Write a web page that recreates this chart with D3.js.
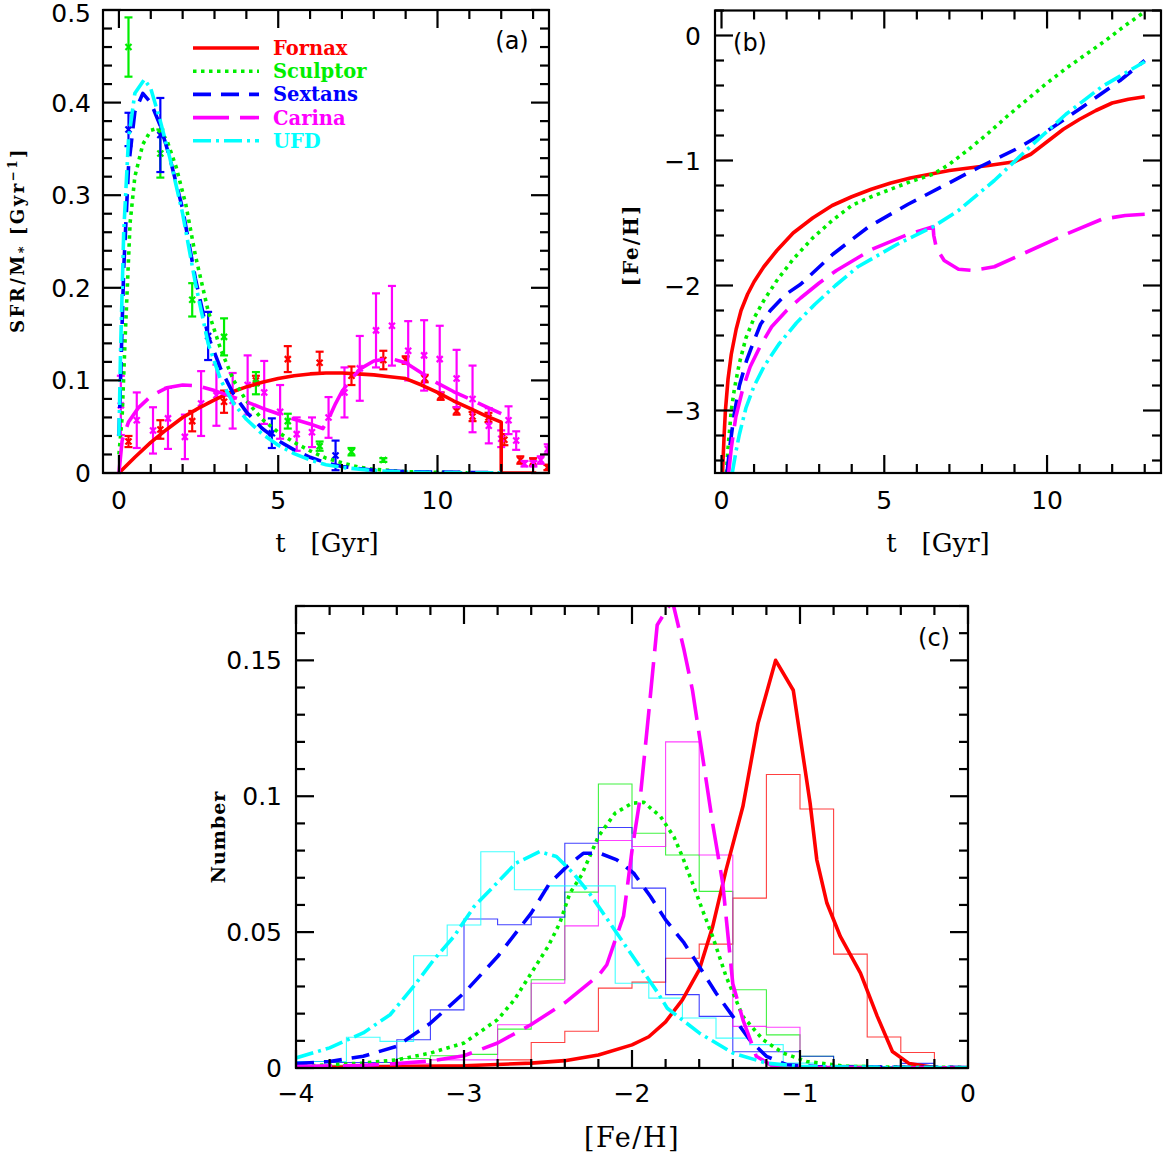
<!DOCTYPE html>
<html>
<head>
<meta charset="utf-8">
<script src="https://cdn.jsdelivr.net/npm/d3@7"></script>
<style>
  body { margin: 0; background: #fff; }
</style>
</head>
<body>
<div id="figure"></div>
<script>
// ---------- panel (a): star formation rate vs time ----------
const fornaxSfrT = [0, 0.5, 1, 1.5, 2, 2.5, 3, 3.5, 4, 4.5, 5, 5.5, 6, 6.5, 7, 7.5, 8, 8.5, 9, 9.5, 10, 10.5, 11, 11.5, 12, 12, 13.1];
const fornaxSfr = [0, 0.017, 0.033, 0.047, 0.06, 0.07, 0.079, 0.087, 0.093, 0.098, 0.102, 0.105, 0.107, 0.108, 0.108, 0.107, 0.106, 0.104, 0.102, 0.095, 0.087, 0.078, 0.07, 0.062, 0.055, 0, 0];
const sculptorSfrT = [0, 0.1, 0.2, 0.35, 0.5, 0.75, 1.0, 1.2, 1.5, 1.8, 2.1, 2.4, 2.8, 3.2, 3.6, 4.0, 4.5, 5.0, 5.5, 6.0, 6.5, 7.0, 7.5, 8, 9, 10, 11, 12];
const sculptorSfr = [0.02, 0.06, 0.15, 0.27, 0.32, 0.355, 0.37, 0.372, 0.36, 0.33, 0.29, 0.235, 0.175, 0.133, 0.1, 0.078, 0.058, 0.044, 0.033, 0.024, 0.016, 0.011, 0.0065, 0.004, 0.0015, 0.0007, 0.0003, 0.0002];
const sextansSfrT = [0, 0.05, 0.15, 0.3, 0.5, 0.75, 1.0, 1.3, 1.6, 2.0, 2.4, 2.8, 3.2, 3.6, 4.0, 4.5, 5.0, 5.5, 6.0, 6.5, 7.0, 8.0, 9.0, 10, 11, 12];
const sextansSfr = [0.04, 0.1, 0.22, 0.33, 0.39, 0.41, 0.4, 0.375, 0.34, 0.285, 0.21, 0.148, 0.112, 0.085, 0.066, 0.048, 0.035, 0.025, 0.017, 0.011, 0.007, 0.003, 0.0015, 0.001, 0.0005, 0.0003];
const carinaSfrT = [0, 0.1, 0.3, 0.6, 1.0, 1.5, 2.0, 2.5, 3.0, 3.5, 4.0, 4.5, 5.0, 5.5, 6.0, 6.4, 6.6, 6.8, 7.0, 7.3, 7.6, 8.0, 8.5, 9.0, 9.5, 10, 10.5, 11, 11.5, 12];
const carinaSfr = [0, 0.035, 0.055, 0.07, 0.083, 0.092, 0.095, 0.094, 0.089, 0.083, 0.077, 0.07, 0.064, 0.058, 0.053, 0.048, 0.06, 0.075, 0.088, 0.102, 0.113, 0.121, 0.124, 0.119, 0.108, 0.097, 0.088, 0.08, 0.072, 0.064];
const ufdSfrT = [0, 0.05, 0.15, 0.3, 0.5, 0.8, 1.0, 1.3, 1.6, 2.0, 2.4, 2.8, 3.2, 3.6, 4.0, 4.5, 5.0, 5.5, 6.0, 6.5, 7.0, 8, 9, 10, 11, 12];
const ufdSfr = [0.04, 0.13, 0.26, 0.36, 0.41, 0.425, 0.415, 0.38, 0.34, 0.28, 0.205, 0.14, 0.1, 0.075, 0.058, 0.042, 0.03, 0.021, 0.014, 0.009, 0.006, 0.0025, 0.001, 0.0005, 0.0003, 0.0002];

// observed SFHs with error bars
const fornaxObsT = [0.3, 1.3, 2.3, 3.3, 4.3, 5.3, 6.3, 7.3, 8.3, 9.0, 9.6, 10.1, 10.6, 11.1, 11.6, 12.1, 12.6, 13.0, 13.45];
const fornaxObs = [0.034, 0.047, 0.056, 0.077, 0.1, 0.123, 0.119, 0.105, 0.122, 0.122, 0.102, 0.083, 0.067, 0.061, 0.06, 0.036, 0.014, 0.012, 0.006];
const fornaxErr = [0.006, 0.01, 0.011, 0.012, 0.005, 0.014, 0.012, 0.01, 0.01, 0.004, 0.004, 0.004, 0.004, 0.005, 0.005, 0.006, 0.004, 0.004, 0.003];
const sculptorObsT = [0.3, 1.3, 2.3, 3.3, 4.3, 5.3, 6.3, 7.3, 8.3];
const sculptorObs = [0.46, 0.345, 0.187, 0.147, 0.097, 0.056, 0.029, 0.023, 0.014];
const sculptorErr = [0.032, 0.026, 0.018, 0.02, 0.012, 0.008, 0.005, 0.004, 0.002];
const sextansObsT = [0.3, 1.3, 2.8, 4.8, 6.8];
const sextansObs = [0.371, 0.365, 0.148, 0.043, 0.019];
const sextansErr = [0.018, 0.04, 0.026, 0.016, 0.016];
const carinaObsT = [0.06, 0.56, 1.07, 1.54, 2.07, 2.58, 3.06, 3.57, 4.04, 4.56, 5.06, 5.58, 6.06, 6.58, 7.08, 7.56, 8.07, 8.57, 9.08, 9.58, 10.07, 10.6, 11.1, 11.61, 12.0, 12.23, 12.47, 12.73, 13.01, 13.24, 13.46];
const carinaObs = [0.073, 0.057, 0.046, 0.059, 0.039, 0.075, 0.084, 0.078, 0.095, 0.087, 0.066, 0.042, 0.044, 0.06, 0.087, 0.113, 0.154, 0.159, 0.132, 0.127, 0.123, 0.102, 0.08, 0.051, 0.037, 0.057, 0.035, 0.01, 0.01, 0.014, 0.026];
const carinaErr = [0.032, 0.03, 0.025, 0.033, 0.024, 0.035, 0.033, 0.03, 0.032, 0.034, 0.029, 0.018, 0.016, 0.022, 0.027, 0.035, 0.04, 0.043, 0.032, 0.038, 0.036, 0.031, 0.036, 0.019, 0.009, 0.015, 0.01, 0.003, 0.003, 0.004, 0.005];

// ---------- panel (b): [Fe/H] vs time ----------
const fornaxFehT = [0.03, 0.08, 0.12, 0.2, 0.3, 0.45, 0.6, 0.8, 1.0, 1.3, 1.7, 2.2, 2.8, 3.4, 4, 4.6, 5.2, 5.8, 6.4, 7, 7.6, 8.2, 9.0, 9.5, 10, 10.5, 11, 11.5, 12, 12.5, 13];
const fornaxFeh = [-3.5, -3.2, -3.0, -2.75, -2.55, -2.35, -2.2, -2.07, -1.97, -1.85, -1.72, -1.58, -1.46, -1.36, -1.29, -1.23, -1.18, -1.14, -1.11, -1.08, -1.06, -1.04, -1.01, -0.95, -0.85, -0.75, -0.67, -0.6, -0.54, -0.51, -0.49];
const sculptorFehT = [0.15, 0.2, 0.3, 0.4, 0.55, 0.75, 1.0, 1.3, 1.7, 2.2, 2.8, 3.4, 4, 4.6, 5.2, 5.8, 6.5, 7, 7.6, 8.2, 8.8, 9.4, 10, 10.6, 11.2, 11.8, 12.4, 13];
const sculptorFeh = [-3.5, -3.3, -3.0, -2.82, -2.62, -2.42, -2.26, -2.12, -1.96, -1.79, -1.62, -1.48, -1.36, -1.29, -1.23, -1.17, -1.11, -1.03, -0.91, -0.78, -0.64, -0.51, -0.38, -0.26, -0.15, -0.04, 0.08, 0.19];
const sextansFehT = [0.17, 0.25, 0.39, 0.55, 0.77, 1.0, 1.2, 1.5, 1.98, 2.43, 3.42, 4.52, 5.73, 6.84, 7.94, 9.04, 10.03, 11.1, 12.24, 13];
const sextansFeh = [-3.5, -3.3, -3.03, -2.8, -2.6, -2.44, -2.31, -2.2, -2.07, -1.99, -1.75, -1.53, -1.35, -1.2, -1.05, -0.91, -0.76, -0.57, -0.36, -0.2];
const carinaFehT = [0.22, 0.3, 0.44, 0.65, 0.88, 1.2, 1.54, 2.0, 2.43, 3.0, 3.53, 4.63, 5.73, 6.5, 6.52, 6.6, 6.84, 7.28, 7.72, 8.38, 9.48, 10.58, 11.68, 12.4, 13];
const carinaFeh = [-3.5, -3.3, -3.05, -2.83, -2.65, -2.48, -2.33, -2.2, -2.1, -1.98, -1.88, -1.71, -1.59, -1.53, -1.6, -1.7, -1.8, -1.87, -1.88, -1.85, -1.72, -1.59, -1.47, -1.44, -1.43];
const ufdFehT = [0.33, 0.45, 0.55, 0.75, 0.99, 1.3, 1.76, 2.3, 2.87, 3.5, 4.19, 5.4, 6.5, 7.28, 8.38, 9.48, 10.58, 11.68, 13];
const ufdFeh = [-3.5, -3.32, -3.19, -2.98, -2.81, -2.65, -2.47, -2.3, -2.15, -2.0, -1.85, -1.67, -1.53, -1.4, -1.16, -0.89, -0.63, -0.41, -0.21];

// ---------- panel (c): metallicity distributions ----------
const fornaxMdfX = [-4, -3.5, -3.0, -2.6, -2.4, -2.2, -2.0, -1.9, -1.8, -1.7, -1.6, -1.52, -1.44, -1.34, -1.25, -1.145, -1.04, -0.94, -0.9, -0.84, -0.76, -0.64, -0.54, -0.45, -0.35, -0.2, 0];
const fornaxMdf = [0.0002, 0.0004, 0.0008, 0.0018, 0.0027, 0.0048, 0.0085, 0.0115, 0.017, 0.0251, 0.0361, 0.052, 0.0729, 0.0962, 0.1268, 0.15, 0.139, 0.0975, 0.0766, 0.0607, 0.0484, 0.0349, 0.019, 0.0061, 0.0016, 0.0002, 0];
const sculptorMdfX = [-4, -3.6, -3.4, -3.2, -3.0, -2.8, -2.7, -2.6, -2.5, -2.43, -2.37, -2.3, -2.2, -2.1, -2.0, -1.93, -1.83, -1.75, -1.7, -1.64, -1.58, -1.52, -1.44, -1.34, -1.22, -1.1, -0.96, -0.72, -0.4, 0];
const sculptorMdf = [0.0006, 0.0018, 0.003, 0.0055, 0.0092, 0.0178, 0.0251, 0.0349, 0.0447, 0.0533, 0.0643, 0.071, 0.0852, 0.0938, 0.0974, 0.0978, 0.0925, 0.085, 0.0778, 0.068, 0.058, 0.0484, 0.0337, 0.019, 0.0104, 0.0055, 0.0024, 0.0006, 0.0003, 0.0002];
const sextansMdfX = [-4, -3.8, -3.6, -3.4, -3.2, -3.0, -2.8, -2.6, -2.49, -2.39, -2.29, -2.19, -2.09, -1.99, -1.89, -1.8, -1.69, -1.6, -1.5, -1.4, -1.3, -1.2, -1.08, -0.9, -0.5, 0];
const sextansMdf = [0.0016, 0.0024, 0.0043, 0.008, 0.0165, 0.0276, 0.041, 0.057, 0.068, 0.074, 0.079, 0.079, 0.0766, 0.0717, 0.0631, 0.0545, 0.046, 0.0374, 0.0276, 0.019, 0.0104, 0.0043, 0.0012, 0.0005, 0.0003, 0.0002];
const carinaMdfX = [-4, -3.6, -3.4, -3.2, -3.0, -2.8, -2.6, -2.4, -2.2, -2.15, -2.1, -2.05, -2.0, -1.95, -1.9, -1.85, -1.8, -1.76, -1.69, -1.64, -1.58, -1.52, -1.46, -1.4, -1.34, -1.26, -1.16, -1.0, -0.5, 0];
const carinaMdf = [0.0005, 0.001, 0.0016, 0.0026, 0.0045, 0.0092, 0.016, 0.024, 0.034, 0.038, 0.047, 0.056, 0.08, 0.1, 0.131, 0.163, 0.168, 0.172, 0.1538, 0.139, 0.1146, 0.09, 0.068, 0.031, 0.0178, 0.0043, 0.0006, 0.0002, 0.0001, 0];
const ufdMdfX = [-4, -3.8, -3.6, -3.44, -3.3, -3.18, -3.06, -2.94, -2.79, -2.69, -2.55, -2.45, -2.35, -2.25, -2.15, -2.05, -1.95, -1.85, -1.79, -1.6, -1.4, -1.2, -1.0, -0.5, 0];
const ufdMdf = [0.0037, 0.0074, 0.0129, 0.0196, 0.03, 0.0398, 0.0484, 0.0594, 0.069, 0.0754, 0.0796, 0.0778, 0.0717, 0.064, 0.055, 0.046, 0.037, 0.028, 0.022, 0.0129, 0.0055, 0.0018, 0.0006, 0.0002, 0.0001];

// observed histograms, 0.2 dex bins, given as first left edge + heights
const fornaxHistStart = -4.0;
const fornaxHist = [0.0005, 0.0005, 0.0005, 0.0005, 0.001, 0.001, 0.003, 0.0094, 0.0135, 0.0294, 0.0316, 0.0404, 0.0456, 0.0625, 0.108, 0.0953, 0.0419, 0.0114, 0.0057, 0.0005];
const sculptorHistStart = -4.0;
const sculptorHist = [0.001, 0.001, 0.001, 0.0035, 0.0045, 0.005, 0.0143, 0.0325, 0.0647, 0.1045, 0.0864, 0.0784, 0.065, 0.0288, 0.0122, 0.0043, 0.001, 0.0005, 0.0005, 0.0002];
const sextansHistStart = -4.0;
const sextansHist = [0.0024, 0.002, 0.002, 0.0104, 0.0214, 0.0548, 0.0527, 0.0555, 0.0827, 0.0885, 0.0662, 0.027, 0.019, 0.006, 0.006, 0.0043, 0.0005, 0.0005, 0.0017, 0.0002];
const carinaHistStart = -4.0;
const carinaHist = [0.0005, 0.0005, 0.001, 0.0015, 0.003, 0.003, 0.0159, 0.0312, 0.0523, 0.0837, 0.0815, 0.12, 0.0784, 0.0153, 0.015, 0.0005, 0.0005, 0.0003, 0.0003, 0.0002];
const ufdHistStart = -4.1;
const ufdHist = [0.0024, 0.0024, 0.0113, 0.0098, 0.0413, 0.0526, 0.0796, 0.0656, 0.067, 0.067, 0.0312, 0.0257, 0.0184, 0.011, 0.0086, 0.0018, 0.0005, 0.0005, 0.0005, 0.0005, 0.0005];

const names = ["Fornax", "Sculptor", "Sextans", "Carina", "UFD"];

// ticks and labels
const aXLabels = [0, 5, 10];
const aYLabels = [0, 0.1, 0.2, 0.3, 0.4, 0.5];
const bXLabels = [0, 5, 10];
const bYLabels = [0, -1, -2, -3];
const cXLabels = [-4, -3, -2, -1, 0];
const cYLabels = [0, 0.05, 0.1, 0.15];

// ---------- styling ----------
const colors = ["#ff0000", "#00ee00", "#0000ff", "#ff00ff", "#00ffff"];
const dashes = ["none", "3.5,4.5", "18,10", "36,11", "18,5,3,5"];
const lineWidth = 3.6;
const serif = "DejaVu Serif";

const zip = (a, b) => a.map((v, i) => [v, b[i]]);
const fmt = (v) => (v < 0 ? "\u2212" + Math.abs(v) : String(v));

const svg = d3
  .select("#figure")
  .append("svg")
  .attr("width", 1163)
  .attr("height", 1154)
  .attr("font-family", "DejaVu Sans");

let clipCount = 0;

function makePanel(box, xDomain, yDomain) {
  const x = d3.scaleLinear().domain(xDomain).range([box.left, box.right]);
  const y = d3.scaleLinear().domain(yDomain).range([box.bottom, box.top]);
  const id = "clip" + clipCount++;
  svg
    .append("clipPath")
    .attr("id", id)
    .append("rect")
    .attr("x", box.left)
    .attr("y", box.top)
    .attr("width", box.right - box.left)
    .attr("height", box.bottom - box.top);
  const plot = svg.append("g").attr("clip-path", `url(#${id})`);
  return { x, y, box, plot };
}

function drawFrame(p, xTicks, yTicks, xLabels, yLabels, xLabelDy, yLabelDx) {
  const { x, y, box } = p;
  const g = svg.append("g").attr("stroke", "#000").attr("stroke-width", 2.2);
  g.append("rect")
    .attr("x", box.left)
    .attr("y", box.top)
    .attr("width", box.right - box.left)
    .attr("height", box.bottom - box.top)
    .attr("fill", "none");

  const len = (d) => (d.major ? 18 : 9);
  g.selectAll(".xb").data(xTicks).join("line")
    .attr("x1", (d) => x(d.v)).attr("x2", (d) => x(d.v))
    .attr("y1", box.bottom).attr("y2", (d) => box.bottom - len(d));
  g.selectAll(".xt").data(xTicks).join("line")
    .attr("x1", (d) => x(d.v)).attr("x2", (d) => x(d.v))
    .attr("y1", box.top).attr("y2", (d) => box.top + len(d));
  g.selectAll(".yl").data(yTicks).join("line")
    .attr("y1", (d) => y(d.v)).attr("y2", (d) => y(d.v))
    .attr("x1", box.left).attr("x2", (d) => box.left + len(d));
  g.selectAll(".yr").data(yTicks).join("line")
    .attr("y1", (d) => y(d.v)).attr("y2", (d) => y(d.v))
    .attr("x1", box.right).attr("x2", (d) => box.right - len(d));

  svg.append("g").selectAll("text").data(xLabels).join("text")
    .attr("x", (d) => x(d))
    .attr("y", box.bottom + xLabelDy)
    .attr("text-anchor", "middle")
    .attr("font-size", 25)
    .text(fmt);
  svg.append("g").selectAll("text").data(yLabels).join("text")
    .attr("x", box.left - yLabelDx)
    .attr("y", (d) => Math.max(y(d), 13))
    .attr("dy", "0.36em")
    .attr("text-anchor", "end")
    .attr("font-size", 25)
    .text(fmt);
}

function drawCurve(p, pts, i) {
  const line = d3.line().x((d) => p.x(d[0])).y((d) => p.y(d[1]));
  p.plot.append("path")
    .attr("d", line(pts))
    .attr("fill", "none")
    .attr("stroke", colors[i])
    .attr("stroke-width", lineWidth)
    .attr("stroke-dasharray", dashes[i])
    .attr("stroke-linejoin", "round");
}

function drawHist(p, start, vals, i) {
  const pts = vals.map((v, k) => [start + 0.2 * k, v]);
  pts.push([start + 0.2 * vals.length, vals[vals.length - 1]]);
  const line = d3.line().curve(d3.curveStepAfter)
    .x((d) => p.x(d[0])).y((d) => p.y(d[1]));
  p.plot.append("path")
    .attr("d", line(pts))
    .attr("fill", "none")
    .attr("stroke", colors[i])
    .attr("stroke-opacity", 0.75)
    .attr("stroke-width", 1.1);
}

function drawErrors(p, ts, vs, es, i) {
  const g = p.plot.append("g").attr("stroke", colors[i]).attr("stroke-width", 2.2);
  const data = ts.map((t, k) => ({ t, v: vs[k], e: es[k] }));
  const cap = 4, m = 3;
  g.selectAll(".bar").data(data).join("line")
    .attr("x1", (d) => p.x(d.t)).attr("x2", (d) => p.x(d.t))
    .attr("y1", (d) => p.y(d.v - d.e)).attr("y2", (d) => p.y(d.v + d.e));
  g.selectAll(".lo").data(data).join("line")
    .attr("x1", (d) => p.x(d.t) - cap).attr("x2", (d) => p.x(d.t) + cap)
    .attr("y1", (d) => p.y(d.v - d.e)).attr("y2", (d) => p.y(d.v - d.e));
  g.selectAll(".hi").data(data).join("line")
    .attr("x1", (d) => p.x(d.t) - cap).attr("x2", (d) => p.x(d.t) + cap)
    .attr("y1", (d) => p.y(d.v + d.e)).attr("y2", (d) => p.y(d.v + d.e));
  g.selectAll(".m1").data(data).join("line")
    .attr("x1", (d) => p.x(d.t) - m).attr("x2", (d) => p.x(d.t) + m)
    .attr("y1", (d) => p.y(d.v) - m).attr("y2", (d) => p.y(d.v) + m);
  g.selectAll(".m2").data(data).join("line")
    .attr("x1", (d) => p.x(d.t) - m).attr("x2", (d) => p.x(d.t) + m)
    .attr("y1", (d) => p.y(d.v) + m).attr("y2", (d) => p.y(d.v) - m);
}

// ---------- panel (a) ----------
const pa = makePanel({ left: 103, right: 549, top: 10, bottom: 473 }, [-0.5, 13.5], [0, 0.5]);
drawErrors(pa, fornaxObsT, fornaxObs, fornaxErr, 0);
drawErrors(pa, sculptorObsT, sculptorObs, sculptorErr, 1);
drawErrors(pa, sextansObsT, sextansObs, sextansErr, 2);
drawErrors(pa, carinaObsT, carinaObs, carinaErr, 3);
drawCurve(pa, zip(fornaxSfrT, fornaxSfr), 0);
drawCurve(pa, zip(sculptorSfrT, sculptorSfr), 1);
drawCurve(pa, zip(sextansSfrT, sextansSfr), 2);
drawCurve(pa, zip(carinaSfrT, carinaSfr), 3);
drawCurve(pa, zip(ufdSfrT, ufdSfr), 4);
drawFrame(
  pa,
  d3.range(0, 14).map((v) => ({ v, major: v % 5 === 0 })),
  d3.range(0, 26).map((i) => ({ v: i * 0.02, major: i % 5 === 0 })),
  aXLabels, aYLabels, 36, 12
);

// legend
const legend = svg.append("g");
names.forEach((n, i) => {
  const yy = 48 + i * 23.2;
  legend.append("line")
    .attr("x1", 193).attr("x2", 259).attr("y1", yy).attr("y2", yy)
    .attr("stroke", colors[i]).attr("stroke-width", lineWidth)
    .attr("stroke-dasharray", dashes[i]);
  legend.append("text")
    .attr("x", 273).attr("y", yy).attr("dy", "0.36em")
    .attr("font-family", serif).attr("font-weight", "bold")
    .attr("font-size", 19.5).attr("fill", colors[i])
    .text(n);
});

// ---------- panel (b) ----------
const pb = makePanel({ left: 715, right: 1161, top: 10.5, bottom: 473 }, [-0.2, 13.5], [-3.5, 0.2]);
drawCurve(pb, zip(fornaxFehT, fornaxFeh), 0);
drawCurve(pb, zip(sculptorFehT, sculptorFeh), 1);
drawCurve(pb, zip(sextansFehT, sextansFeh), 2);
drawCurve(pb, zip(carinaFehT, carinaFeh), 3);
drawCurve(pb, zip(ufdFehT, ufdFeh), 4);
drawFrame(
  pb,
  d3.range(0, 14).map((v) => ({ v, major: v % 5 === 0 })),
  d3.range(-17, 2).map((i) => ({ v: i / 5, major: i % 5 === 0 })),
  bXLabels, bYLabels, 36, 14
);

// ---------- panel (c) ----------
const pc = makePanel({ left: 296, right: 968, top: 606, bottom: 1068 }, [-4, 0], [0, 0.17]);
drawHist(pc, fornaxHistStart, fornaxHist, 0);
drawHist(pc, sculptorHistStart, sculptorHist, 1);
drawHist(pc, sextansHistStart, sextansHist, 2);
drawHist(pc, carinaHistStart, carinaHist, 3);
drawHist(pc, ufdHistStart, ufdHist, 4);
drawCurve(pc, zip(fornaxMdfX, fornaxMdf), 0);
drawCurve(pc, zip(sculptorMdfX, sculptorMdf), 1);
drawCurve(pc, zip(sextansMdfX, sextansMdf), 2);
drawCurve(pc, zip(carinaMdfX, carinaMdf), 3);
drawCurve(pc, zip(ufdMdfX, ufdMdf), 4);
drawFrame(
  pc,
  d3.range(-20, 1).map((i) => ({ v: i / 5, major: i % 5 === 0 })),
  d3.range(0, 18).map((i) => ({ v: i / 100, major: i % 5 === 0 })),
  cXLabels, cYLabels, 34, 14
);

// ---------- titles ----------
const titles = svg.append("g");
titles.append("text").attr("x", 512).attr("y", 40).attr("dy", "0.36em")
  .attr("text-anchor", "middle").attr("font-size", 24).text("(a)");
titles.append("text").attr("x", 750).attr("y", 42).attr("dy", "0.36em")
  .attr("text-anchor", "middle").attr("font-size", 24).text("(b)");
titles.append("text").attr("x", 934).attr("y", 637).attr("dy", "0.36em")
  .attr("text-anchor", "middle").attr("font-size", 24).text("(c)");

titles.append("text").attr("x", 327).attr("y", 552).attr("text-anchor", "middle")
  .attr("font-family", serif).attr("font-size", 26)
  .style("white-space", "pre").text("t   [Gyr]");
titles.append("text").attr("x", 938).attr("y", 552).attr("text-anchor", "middle")
  .attr("font-family", serif).attr("font-size", 26)
  .style("white-space", "pre").text("t   [Gyr]");
titles.append("text").attr("x", 632).attr("y", 1147).attr("text-anchor", "middle")
  .attr("font-family", serif).attr("font-size", 27).attr("letter-spacing", 1.5)
  .text("[Fe/H]");

const ya = titles.append("text")
  .attr("transform", "translate(24,240) rotate(-90)")
  .attr("text-anchor", "middle").attr("font-family", serif)
  .attr("font-weight", "bold").attr("font-size", 18).attr("letter-spacing", 2.5);
ya.append("tspan").text("SFR/M");
ya.append("tspan").attr("font-size", 13).attr("dy", 4).text("*");
ya.append("tspan").attr("dy", -4).text(" [Gyr");
ya.append("tspan").attr("font-size", 12).attr("dy", -7).text("\u22121");
ya.append("tspan").attr("dy", 7).text("]");

titles.append("text").attr("transform", "translate(638,245) rotate(-90)")
  .attr("text-anchor", "middle").attr("font-family", serif)
  .attr("font-weight", "bold").attr("font-size", 20).attr("letter-spacing", 2)
  .text("[Fe/H]");
titles.append("text").attr("transform", "translate(225,837) rotate(-90)")
  .attr("text-anchor", "middle").attr("font-family", serif)
  .attr("font-weight", "bold").attr("font-size", 19).attr("letter-spacing", 1)
  .text("Number");
</script>
</body>
</html>
